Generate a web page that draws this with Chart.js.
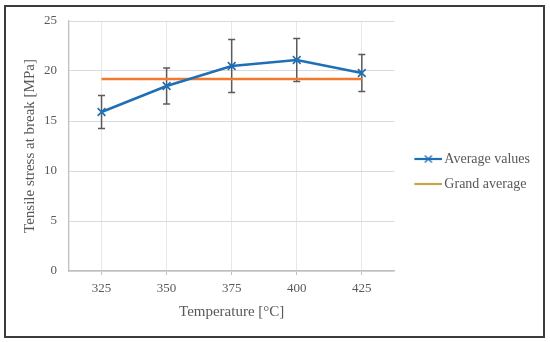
<!DOCTYPE html>
<html lang="en">
<head>
  <meta charset="UTF-8" />
  <title>Tensile stress vs temperature</title>
  <script src="https://cdn.jsdelivr.net/npm/chart.js"></script>
  <style>
    html, body { margin: 0; padding: 0; background: #fff; }
    #wrap { position: relative; width: 550px; height: 342px; }
    #frame {
      position: absolute; left: 4px; top: 5px; width: 541px; height: 333px;
      border: 2px solid #3c3c3c; box-sizing: border-box; pointer-events: none;
    }
  </style>
</head>
<body>
  <div id="wrap">
    <canvas id="chart" width="550" height="342"></canvas>
    <div id="frame"></div>
  </div>

  <script>
    // data
    const temperatures = ['325', '350', '375', '400', '425'];
    const averageValues = [15.9, 18.5, 20.5, 21.1, 19.8];
    const errorValues = [1.65, 1.8, 2.65, 2.15, 1.85];
    const grandAverage = [19.2, 19.2, 19.2, 19.2, 19.2];
    const yTicks = [0, 5, 10, 15, 20, 25];

    const BLUE = '#1f6fb6';
    const ORANGE = '#f27a2e';
    const GOLD = '#c4a646';
    const GREY_TEXT = '#595959';
    const FONT = "'Liberation Serif', 'DejaVu Serif', serif";

    // legend icons: wider canvas so the line sits further right in the legend box
    function legendIcon(color, withMarker) {
      const c = document.createElement('canvas');
      c.width = 42; c.height = 12;
      const g = c.getContext('2d');
      g.strokeStyle = color;
      g.lineWidth = 2.2;
      g.beginPath(); g.moveTo(14, 6); g.lineTo(42, 6); g.stroke();
      if (withMarker) {
        g.lineWidth = 1.4;
        g.beginPath();
        g.moveTo(24.5, 2.5); g.lineTo(31.5, 9.5);
        g.moveTo(31.5, 2.5); g.lineTo(24.5, 9.5);
        g.stroke();
      }
      return c;
    }
    const icons = [legendIcon(BLUE, true), legendIcon(GOLD, false)];

    // vertical error bars for the first dataset
    const errorBars = {
      id: 'errorBars',
      beforeDatasetsDraw(chart) {
        const ctx = chart.ctx;
        const x = chart.scales.x, y = chart.scales.y;
        ctx.save();
        ctx.strokeStyle = '#5a5a5a';
        ctx.lineWidth = 1.5;
        averageValues.forEach((v, i) => {
          const px = x.getPixelForValue(i);
          const top = y.getPixelForValue(v + errorValues[i]);
          const bot = y.getPixelForValue(v - errorValues[i]);
          ctx.beginPath();
          ctx.moveTo(px, top); ctx.lineTo(px, bot);
          ctx.moveTo(px - 3.5, top); ctx.lineTo(px + 3.5, top);
          ctx.moveTo(px - 3.5, bot); ctx.lineTo(px + 3.5, bot);
          ctx.stroke();
        });
        ctx.restore();
      }
    };

    new Chart(document.getElementById('chart'), {
      type: 'line',
      data: {
        labels: temperatures,
        datasets: [
          {
            label: 'Average values',
            data: averageValues,
            borderColor: BLUE,
            backgroundColor: BLUE,
            borderWidth: 2.5,
            pointStyle: 'crossRot',
            pointRadius: 5.5,
            pointBorderWidth: 1.6,
            tension: 0,
            order: 1
          },
          {
            label: 'Grand average',
            data: grandAverage,
            borderColor: ORANGE,
            backgroundColor: ORANGE,
            borderWidth: 2.5,
            pointRadius: 0,
            tension: 0,
            order: 2
          }
        ]
      },
      options: {
        responsive: false,
        animation: false,
        layout: { padding: { top: 21, right: 10, bottom: 20, left: 0 } },
        plugins: {
          tooltip: { enabled: false },
          legend: {
            position: 'right',
            maxWidth: 170,
            labels: {
              usePointStyle: true,
              pointStyleWidth: 32,
              padding: 11,
              color: GREY_TEXT,
              font: { family: FONT, size: 14 },
              generateLabels(chart) {
                return chart.data.datasets.map((ds, i) => ({
                  text: ds.label,
                  pointStyle: icons[i],
                  fontColor: GREY_TEXT,
                  strokeStyle: 'transparent',
                  fillStyle: 'transparent',
                  lineWidth: 0,
                  datasetIndex: i
                }));
              }
            }
          }
        },
        scales: {
          x: {
            offset: true,
            grid: { offset: false, color: '#e8e8e8', tickColor: '#bfbfbf', tickLength: 4 },
            border: { color: '#bfbfbf', width: 1.3 },
            ticks: { color: GREY_TEXT, font: { family: FONT, size: 13 }, padding: 6 },
            title: {
              display: true, text: 'Temperature [°C]', color: GREY_TEXT,
              font: { family: FONT, size: 15 }, padding: { top: 0, bottom: 1 }
            },
            afterFit(scale) { scale.height = 51; }
          },
          y: {
            min: 0, max: 25,
            afterBuildTicks(scale) { scale.ticks = yTicks.map(v => ({ value: v })); },
            grid: { color: '#d9d9d9', drawTicks: false },
            border: { color: '#bfbfbf', width: 1.3 },
            ticks: { color: GREY_TEXT, font: { family: FONT, size: 13 }, padding: 12 },
            title: {
              display: true, text: 'Tensile stress at break [MPa]', color: GREY_TEXT,
              font: { family: FONT, size: 15 }, padding: { top: 21, bottom: 0 }
            },
            afterFit(scale) { scale.width = 69; }
          }
        }
      },
      plugins: [errorBars]
    });
  </script>
</body>
</html>
